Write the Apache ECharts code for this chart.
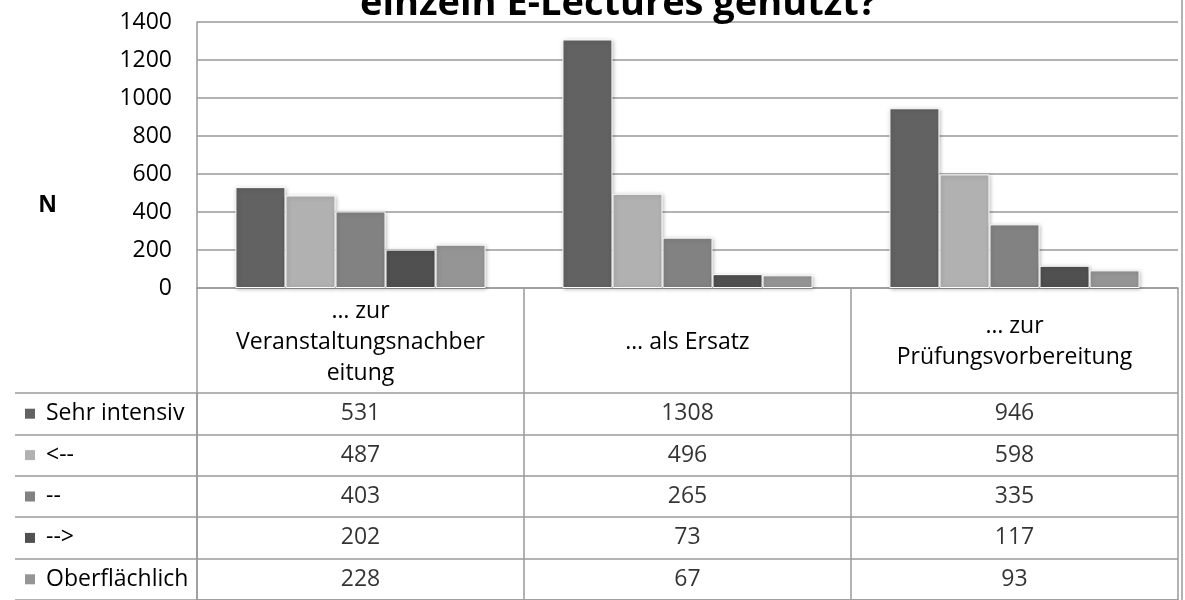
<!DOCTYPE html>
<html>
<head>
<meta charset="utf-8">
<script src="https://cdn.jsdelivr.net/npm/echarts@6/dist/echarts.min.js"></script>
<style>
  html, body { margin: 0; padding: 0; background: #fff; }
  #chart-panel { width: 1185px; height: 600px; }
</style>
</head>
<body>
<div id="chart-panel"></div>
<script>
// categories (full names) and how they are wrapped in the table header
const categories = ['… zur Veranstaltungsnachbereitung', '… als Ersatz', '… zur Prüfungsvorbereitung'];
const headerLabels = ['… zur\nVeranstaltungsnachber\neitung', '… als Ersatz', '… zur\nPrüfungsvorbereitung'];

// series
const seriesNames = ['Sehr intensiv', '<--', '--', '-->', 'Oberflächlich'];
const sehrIntensiv = [531, 1308, 946];
const eherIntensiv = [487, 496, 598];
const mittel = [403, 265, 335];
const eherOberflaechlich = [202, 73, 117];
const oberflaechlich = [228, 67, 93];
const seriesValues = [sehrIntensiv, eherIntensiv, mittel, eherOberflaechlich, oberflaechlich];

// y axis ticks
const yMin = 0;
const yMax = 1400;
const yStep = 200;

const colors = ['#626262', '#b1b1b1', '#828282', '#505050', '#959595'];
const font = 'Open Sans';
const fs = 23;
const lineGray = '#9a9a9a';

var myChart = echarts.init(document.getElementById('chart-panel'));

// legend squares for the table's first column
const rich = { t: { fontSize: fs, fontFamily: font, color: '#000', padding: [0, 0, 0, 11] } };
colors.forEach(function (c, i) {
  rich['s' + i] = { backgroundColor: c, width: 10, height: 10 };
});

// cells of the data table
const cellData = [];
seriesValues.forEach(function (vals, r) {
  vals.forEach(function (v, c) {
    cellData.push([c, r, v]);
  });
});

const barSeries = seriesNames.map(function (name, i) {
  return {
    name: name,
    type: 'bar',
    xAxisIndex: 0,
    yAxisIndex: 0,
    data: seriesValues[i],
    barGap: '0%',
    barCategoryGap: '23.5%',
    itemStyle: {
      color: colors[i],
      borderColor: '#fff',
      borderWidth: 1,
      shadowBlur: 4,
      shadowColor: 'rgba(0,0,0,0.25)',
      shadowOffsetX: 1,
      shadowOffsetY: 1
    }
  };
});

myChart.setOption({
  animation: false,
  textStyle: { fontFamily: font },
  title: {
    text: 'einzeln E-Lectures genutzt?',
    left: 355,
    top: -20,
    textStyle: { fontSize: 38, fontWeight: 'bold', fontFamily: font, color: '#000' }
  },
  grid: [
    { left: 197, right: 7, top: 22, height: 266 },
    { left: 197, right: 7, top: 393, height: 208 }
  ],
  xAxis: [
    {
      type: 'category',
      gridIndex: 0,
      data: headerLabels,
      axisLine: { lineStyle: { color: lineGray, width: 1.5 } },
      axisTick: { show: true, length: 105, lineStyle: { color: lineGray, width: 1.5 } },
      axisLabel: {
        interval: 0,
        margin: 54,
        verticalAlign: 'middle',
        lineHeight: 31,
        fontSize: fs,
        fontFamily: font,
        color: '#000'
      }
    },
    {
      type: 'category',
      gridIndex: 1,
      data: categories,
      axisLine: { show: true, lineStyle: { color: lineGray, width: 1.5 } },
      axisTick: { show: false },
      axisLabel: { show: false },
      splitLine: { show: true, lineStyle: { color: lineGray, width: 1.5 } }
    }
  ],
  yAxis: [
    {
      type: 'value',
      gridIndex: 0,
      min: yMin,
      max: yMax,
      interval: yStep,
      name: '{n|N}',
      nameLocation: 'middle',
      nameRotate: 0,
      nameGap: 140,
      nameTextStyle: {
        rich: {
          n: { fontSize: fs, fontWeight: 'bold', fontFamily: font, color: '#000', padding: [100, 0, 0, 0] }
        }
      },
      axisLine: { show: true, lineStyle: { color: lineGray, width: 1.5 } },
      axisTick: { show: false },
      axisLabel: {
        fontSize: fs, fontFamily: font, color: '#000', margin: 25,
        formatter: function (v) { return String(v); }
      },
      splitLine: { lineStyle: { color: lineGray, width: 1.5 } }
    },
    {
      type: 'category',
      gridIndex: 1,
      data: seriesNames,
      inverse: true,
      axisLine: { show: true, lineStyle: { color: lineGray, width: 1.5 } },
      axisTick: { show: true, length: 182, lineStyle: { color: lineGray, width: 1.5 } },
      axisLabel: {
        align: 'left',
        margin: 172,
        formatter: function (value, index) {
          return '{s' + index + '|}{t|' + value + '}';
        },
        rich: rich
      },
      splitLine: { show: true, lineStyle: { color: lineGray, width: 1.5 } }
    },
    {
      type: 'category',
      gridIndex: 1,
      data: seriesNames,
      inverse: true,
      offset: 182,
      axisLine: { show: true, lineStyle: { color: lineGray, width: 1.5 } },
      axisTick: { show: false },
      axisLabel: { show: false }
    }
  ],
  graphic: [
    {
      type: 'line',
      shape: { x1: 1182, y1: 0, x2: 1182, y2: 600 },
      style: { stroke: lineGray, lineWidth: 1.5 }
    }
  ],
  series: barSeries.concat([
    {
      type: 'scatter',
      xAxisIndex: 1,
      yAxisIndex: 1,
      data: cellData,
      symbolSize: 1,
      silent: true,
      itemStyle: { color: 'rgba(0,0,0,0)' },
      label: {
        show: true,
        position: 'inside',
        formatter: function (p) { return p.value[2]; },
        fontSize: fs,
        fontFamily: font,
        color: '#000'
      }
    }
  ])
});
</script>
</body>
</html>
